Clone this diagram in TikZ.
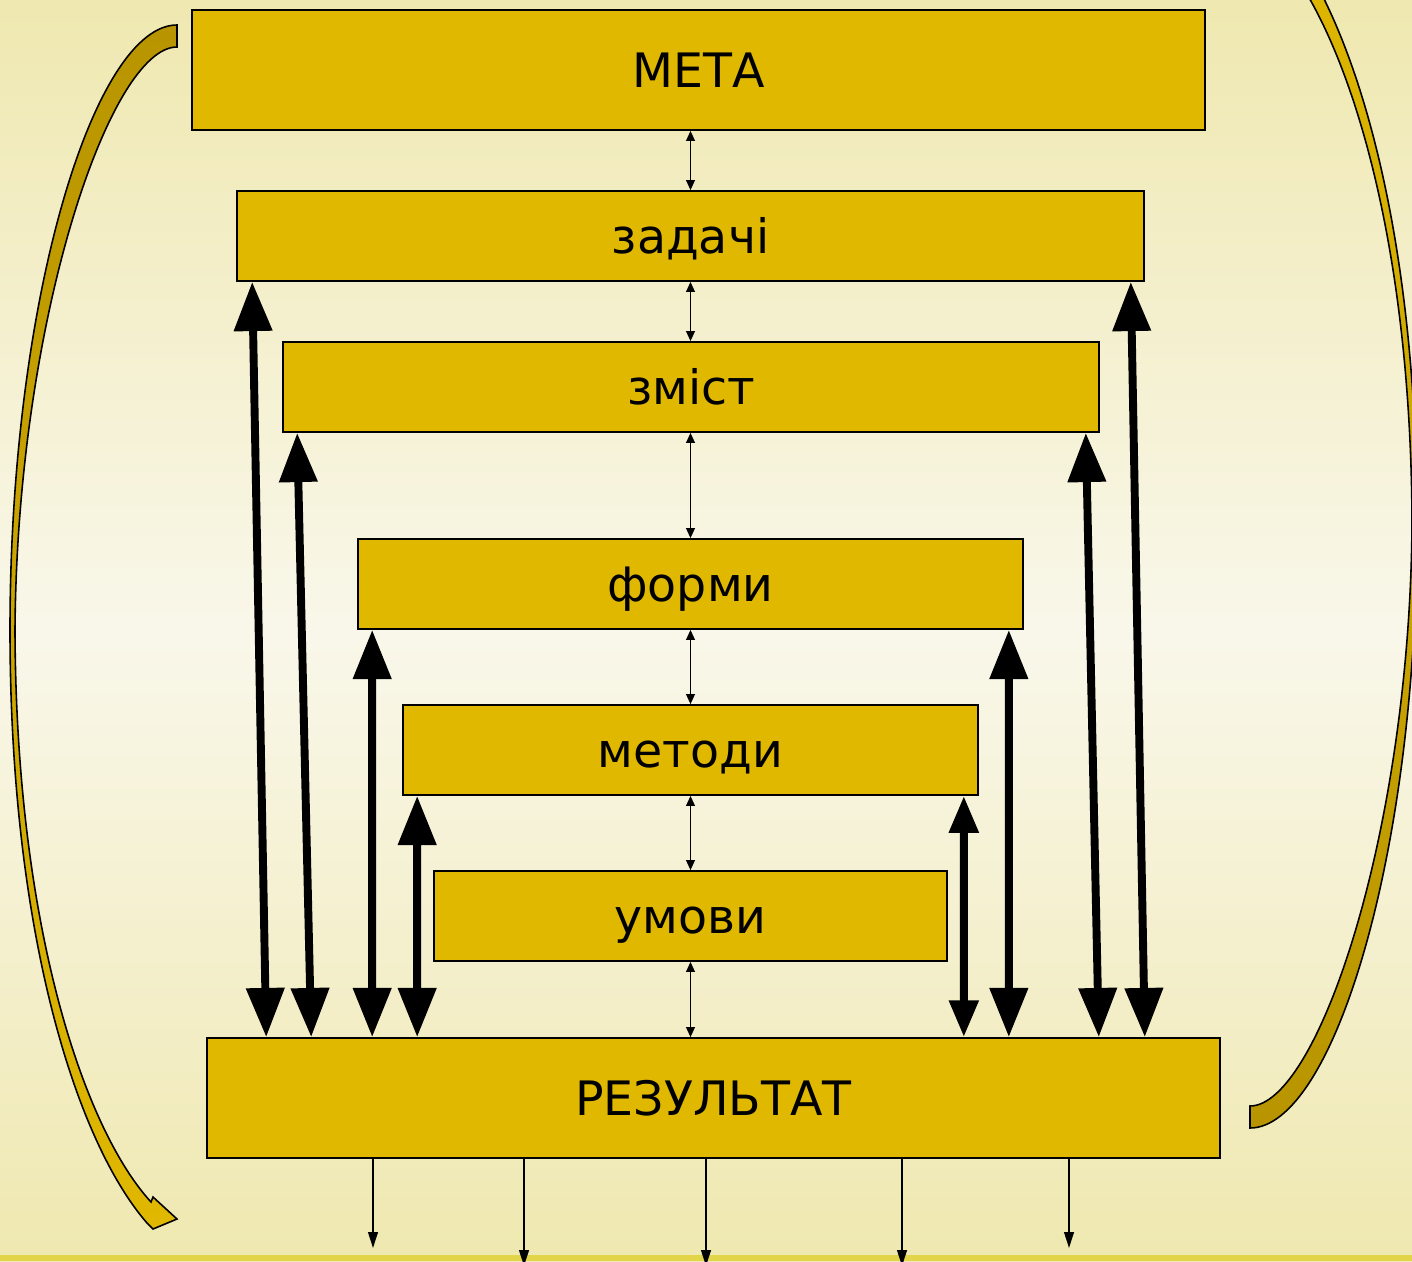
\documentclass[tikz,border=0pt]{standalone}
\usepackage{fontspec}
\setmainfont{DejaVu Sans}
\usetikzlibrary{arrows.meta}
\definecolor{gold}{RGB}{224,184,0}
\definecolor{darkgold}{RGB}{184,148,0}
\definecolor{bgedge}{RGB}{239,232,176}
\definecolor{bgmid}{RGB}{249,247,234}
\definecolor{bandyellow}{RGB}{226,213,74}
\tikzset{
  stagebox/.style={draw, line width=1pt, fill=gold, inner sep=0pt,
    font=\fontsize{27}{33}\selectfont, text height=19.7pt, text depth=0pt},
  link/.style={line width=0.8pt,
    {Triangle[length=5.7pt,width=5pt]}-{Triangle[length=5.7pt,width=5pt]}},
  feed/.style={line width=4.5pt,
    {Triangle[length=28pt,width=21pt]}-{Triangle[length=28pt,width=21pt]}},
  feedsmall/.style={line width=4.5pt,
    {Triangle[length=21pt,width=16pt]}-{Triangle[length=21pt,width=16pt]}},
  outflow/.style={line width=1pt, -{Triangle[length=9pt,width=5.5pt]}},
  returnpath/.style={insert path={(177,25) .. controls (95,25) and (10,296) .. (10,630)
    .. controls (10,930) and (75,1140) .. (147,1223) -- (153,1229) -- (177,1219)
    -- (153,1197) -- (151,1202) .. controls (85,1130) and (16,930) .. (15,630)
    .. controls (17,320) and (110,47) .. (177,47) -- cycle}}
}
\begin{document}
\begin{tikzpicture}[x=0.02cm, y=-0.02cm]
  \useasboundingbox (0,0) rectangle (1412,1261);
  \clip (0,0) rectangle (1412,1261);
  % background
  \shade[top color=bgedge, bottom color=bgedge, middle color=bgmid]
    (0,0) rectangle (1412,1261);
  \fill[bandyellow] (0,1255) rectangle (1412,1261);

  % stages
  \node[stagebox, minimum width=20.26cm, minimum height=2.4cm] (meta) at (698.5,70) {МЕТА};
  \node[stagebox, minimum width=18.14cm, minimum height=1.8cm] (zadachi) at (690.5,236) {задачі};
  \node[stagebox, minimum width=16.32cm, minimum height=1.8cm] (zmist) at (691,387) {зміст};
  \node[stagebox, minimum width=13.3cm, minimum height=1.8cm] (formy) at (690.5,584) {форми};
  \node[stagebox, minimum width=11.5cm, minimum height=1.8cm] (metody) at (690.5,750) {методи};
  \node[stagebox, minimum width=10.26cm, minimum height=1.8cm] (umovy) at (690.5,916) {умови};
  \node[stagebox, minimum width=20.26cm, minimum height=2.4cm] (rezultat) at (713.5,1098) {РЕЗУЛЬТАТ};

  % chain in the middle
  \draw[link] (meta.south -| zadachi.north) -- (zadachi.north);
  \draw[link] (zadachi.south) -- (zmist.north -| zadachi.south);
  \draw[link] (zmist.south -| formy.north) -- (formy.north);
  \draw[link] (formy.south) -- (metody.north);
  \draw[link] (metody.south) -- (umovy.north);
  \draw[link] (umovy.south) -- (rezultat.north -| umovy.south);

  % feedback to the result
  \draw[feed] ([xshift=0.32cm]zadachi.south west) -- ([xshift=1.2cm]rezultat.north west);
  \draw[feed] ([xshift=0.3cm]zmist.south west) -- ([xshift=2.1cm]rezultat.north west);
  \draw[feed] ([xshift=0.3cm]formy.south west) -- ([xshift=3.32cm]rezultat.north west);
  \draw[feed] ([xshift=0.3cm]metody.south west) -- ([xshift=4.22cm]rezultat.north west);
  \draw[feedsmall] ([xshift=-0.3cm]metody.south east) -- ([xshift=-5.14cm]rezultat.north east);
  \draw[feed] ([xshift=-0.3cm]formy.south east) -- ([xshift=-4.24cm]rezultat.north east);
  \draw[feed] ([xshift=-0.28cm]zmist.south east) -- ([xshift=-2.44cm]rezultat.north east);
  \draw[feed] ([xshift=-0.28cm]zadachi.south east) -- ([xshift=-1.52cm]rezultat.north east);

  % outputs
  \coordinate (o1) at (373,1248);
  \coordinate (o2) at (524,1266);
  \coordinate (o3) at (706,1266);
  \coordinate (o4) at (902,1266);
  \coordinate (o5) at (1069,1248);
  \foreach \o in {o1,o2,o3,o4,o5}
    \draw[outflow] (rezultat.south -| \o) -- (\o);

  % big return arrows
  \draw[line width=0.9pt, top color=darkgold, bottom color=gold, returnpath];
  \draw[line width=0.9pt, top color=gold, bottom color=darkgold,
    rotate around={180:(713.5,576.5)}, returnpath];
\end{tikzpicture}
\end{document}
